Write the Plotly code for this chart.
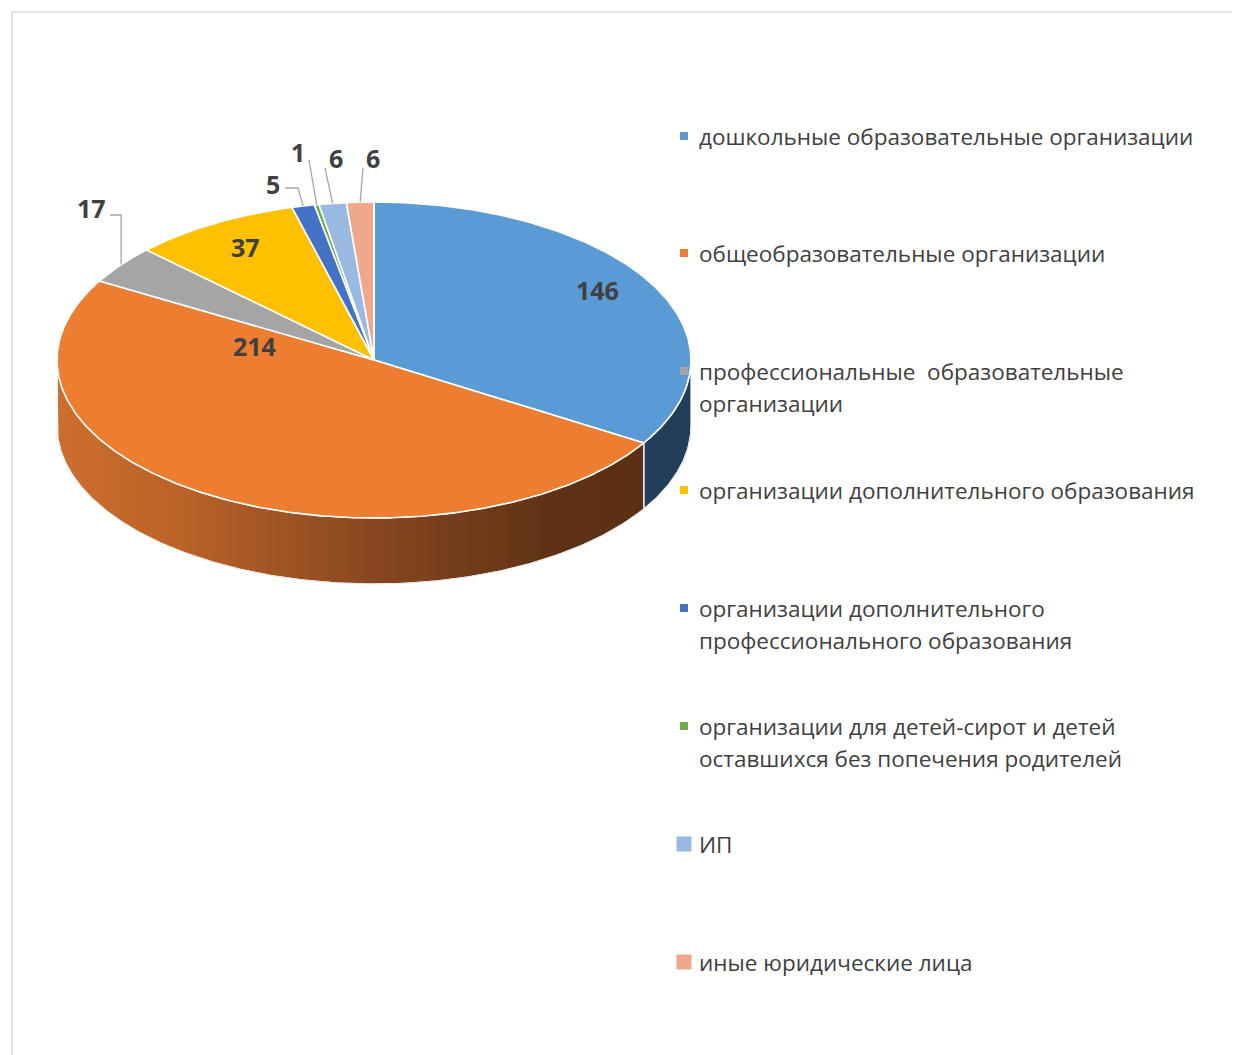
import numpy as np
import plotly.graph_objects as go

# ---------------- data ----------------
categories = [
    "дошкольные образовательные организации",
    "общеобразовательные организации",
    "профессиональные  образовательные<br>организации",
    "организации дополнительного образования",
    "организации дополнительного<br>профессионального образования",
    "организации для детей-сирот и детей<br>оставшихся без попечения родителей",
    "ИП",
    "иные юридические лица",
]
values = [146, 214, 17, 37, 5, 1, 6, 6]

# ---------------- styles / layout ----------------
colors = ["#5B9BD5", "#ED7D31", "#A5A5A5", "#FFC000", "#4472C4", "#70AD47", "#98BAE0", "#EFA88A"]
W, H = 1240, 1055
OFF = 8  # page body margin
CX, CY, RX, RY, DEPTH = 374, 360, 317, 158, 66
TEXT_COLOR = "#404040"
FONT = "Open Sans"

# label placement (pixel layout)
label_pos = [(597, 290), (254, 346), (91, 208), (245, 247), (273, 184), (298, 152), (336, 158), (373, 158)]
# leader lines: start point and optional elbow (None = inside label)
leader_start = [None, None, (110, 215), None, (285, 188), (309, 160), (325, 168), (363, 168)]
leader_elbow = [None, None, "vertical", None, (298, 188), None, None, None]

legend_y = [136, 253, 371, 490, 608, 726, 844, 962]
legend_marker_size = [8, 8, 8, 8, 8, 8, 15, 15]
LEGEND_X_MARK = 684
LEGEND_X_TEXT = 697
LINE_GAP = 32

# ---------------- geometry helpers ----------------
def pt(theta_deg, dy=0.0):
    t = np.radians(theta_deg)
    return CX + RX * np.sin(t), CY - RY * np.cos(t) + dy


def arc(a0, a1, dy=0.0, n=None):
    if n is None:
        n = max(4, int(abs(a1 - a0) * 2))
    th = np.linspace(a0, a1, n)
    xs, ys = pt(th, dy)
    return list(xs), list(ys)


total = float(sum(values))
bounds = np.concatenate([[0], np.cumsum(values)]) / total * 360.0

fig = go.Figure()

# ---------- side walls (visible between 90 and 270 deg) ----------
wall_colors = ["#233E58", None, "#5F5F5F", "#A07800", "#2A4A80", "#446B2B", "#5E7690", "#8F6555"]
for i in range(len(values)):
    a0, a1 = bounds[i], bounds[i + 1]
    s, e = max(a0, 90.0), min(a1, 270.0)
    if e <= s:
        continue
    tx, ty = arc(s, e)
    bx, by = arc(e, s, DEPTH)
    xs = tx + bx + [tx[0]]
    ys = ty + by + [ty[0]]
    kw = {}
    if i == 1:
        kw["fillgradient"] = dict(
            type="horizontal",
            colorscale=[[0, "#CD6E2C"], [0.2, "#BC6329"], [0.55, "#864620"], [0.85, "#5E3114"], [1, "#5C3014"]],
        )
        kw["fillcolor"] = "#8A4820"
    else:
        kw["fillcolor"] = wall_colors[i]
    fig.add_trace(go.Scatter(
        x=xs, y=ys, mode="lines", fill="toself",
        line=dict(color="white", width=1.2),
        hoverinfo="skip", showlegend=False, **kw,
    ))

# outer light outline of the bottom edge
bx, by = arc(90, 270, DEPTH)
fig.add_trace(go.Scatter(x=bx, y=by, mode="lines", line=dict(color="#E6E6E6", width=1),
                         hoverinfo="skip", showlegend=False))

# ---------- top faces ----------
for i in range(len(values)):
    a0, a1 = bounds[i], bounds[i + 1]
    ax_, ay_ = arc(a0, a1)
    xs = [CX] + ax_ + [CX]
    ys = [CY] + ay_ + [CY]
    fig.add_trace(go.Scatter(
        x=xs, y=ys, mode="lines", fill="toself", fillcolor=colors[i],
        line=dict(color="white", width=1.6),
        name=categories[i].replace("<br>", " "),
        hovertemplate="%{text}<extra></extra>", text=[str(values[i])] * len(xs),
        showlegend=False,
    ))

# ---------- leader lines ----------
for i in range(len(values)):
    if leader_start[i] is None:
        continue
    mid = (bounds[i] + bounds[i + 1]) / 2
    ex, ey = pt(mid)
    sx, sy = leader_start[i]
    xs, ys = [sx], [sy]
    el = leader_elbow[i]
    if el == "vertical":
        xs.append(ex); ys.append(sy)
    elif el is not None:
        xs.append(el[0]); ys.append(el[1])
    xs.append(ex); ys.append(ey)
    fig.add_trace(go.Scatter(x=xs, y=ys, mode="lines", line=dict(color="#A6A6A6", width=1.3),
                             hoverinfo="skip", showlegend=False))

# ---------- data labels ----------
for i, v in enumerate(values):
    lx, ly = label_pos[i]
    fig.add_annotation(x=lx, y=ly, text=f"<b>{v}</b>", showarrow=False,
                       font=dict(family=FONT, size=25, color=TEXT_COLOR),
                       xanchor="center", yanchor="middle")

# ---------- legend (markers + text) ----------
fig.add_trace(go.Scatter(
    x=[LEGEND_X_MARK] * len(categories), y=legend_y, mode="markers",
    marker=dict(symbol="square", size=legend_marker_size, color=colors, opacity=1, line=dict(width=0)),
    hoverinfo="skip", showlegend=False,
))
for i, name in enumerate(categories):
    for j, line in enumerate(name.split("<br>")):
        fig.add_annotation(x=LEGEND_X_TEXT, y=legend_y[i] + j * LINE_GAP, text=line, showarrow=False,
                           font=dict(family=FONT, size=22.5, color=TEXT_COLOR),
                           xanchor="left", yanchor="middle")

# ---------- chart frame ----------
fig.add_shape(type="rect", x0=12, y0=12, x1=W + 10, y1=H + 10,
              line=dict(color="#D9D9D9", width=1.5), fillcolor="rgba(0,0,0,0)", layer="below")

fig.update_layout(
    width=W - OFF, height=H - OFF,
    margin=dict(l=0, r=0, t=0, b=0),
    paper_bgcolor="white", plot_bgcolor="white",
    xaxis=dict(range=[OFF, W], visible=False, fixedrange=True),
    yaxis=dict(range=[H, OFF], visible=False, fixedrange=True),
    showlegend=False,
)

fig.write_html("out.html")
